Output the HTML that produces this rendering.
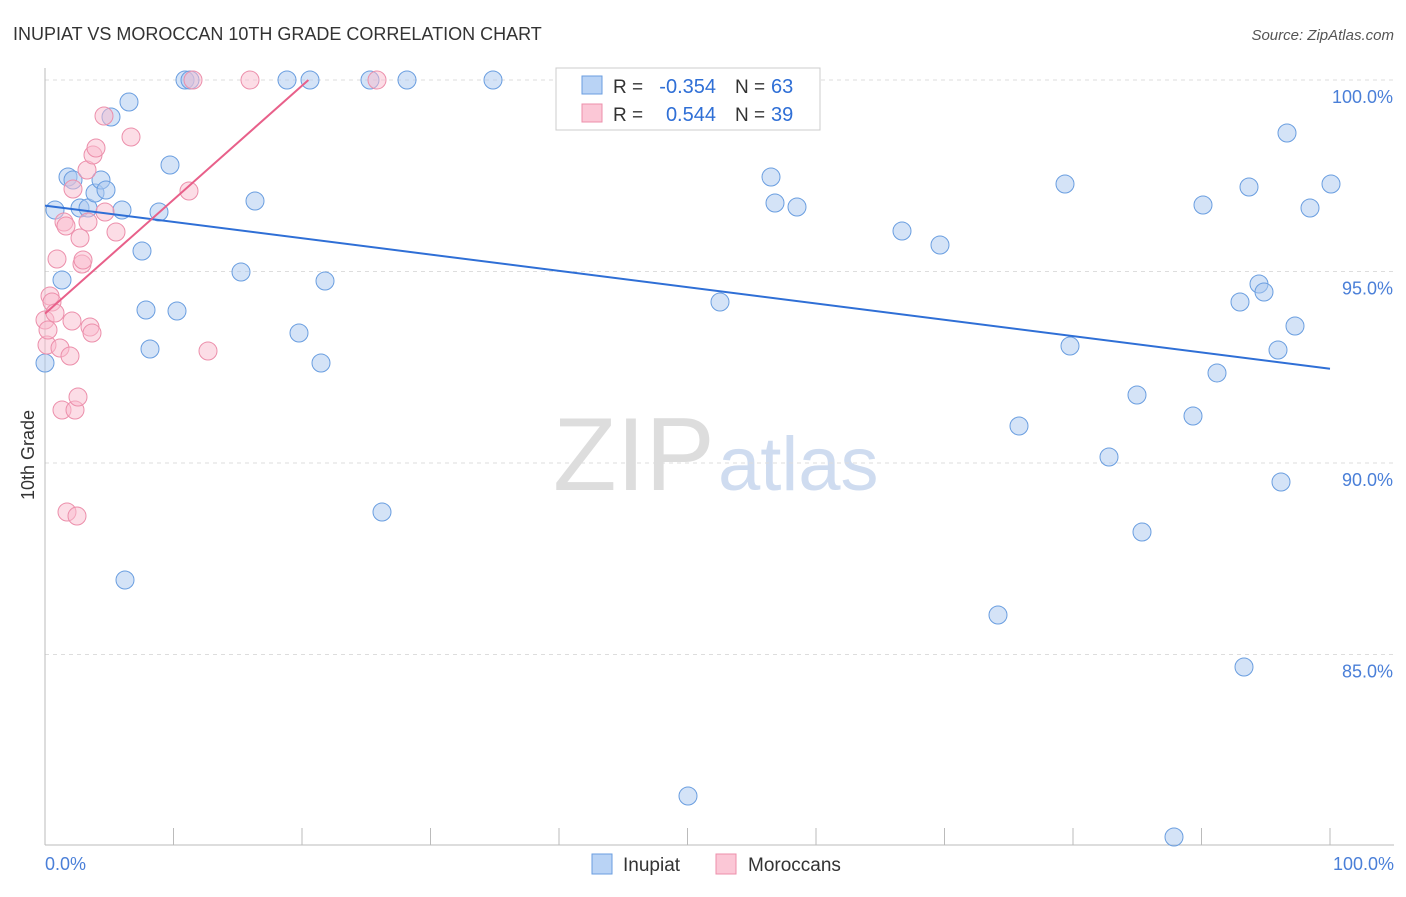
<!DOCTYPE html>
<html><head><meta charset="utf-8"><style>
body{margin:0;background:#fff;font-family:"Liberation Sans",sans-serif;}
svg text{font-family:"Liberation Sans",sans-serif;}
</style></head><body>
<svg id="chart" width="1406" height="892" xmlns="http://www.w3.org/2000/svg">
<text x="13" y="40" font-size="18" fill="#333">INUPIAT VS MOROCCAN 10TH GRADE CORRELATION CHART</text>
<text x="1394" y="40" font-size="15" fill="#555" text-anchor="end" font-style="italic">Source: ZipAtlas.com</text>
<text x="553" y="490" font-size="104" fill="#ddd" font-family="Liberation Serif">ZIP</text>
<text x="718" y="490" font-size="76" fill="#cfdcf0">atlas</text>
<text transform="translate(34,455) rotate(-90)" font-size="18" fill="#333" text-anchor="middle">10th Grade</text>
<g id="grid"></g><g id="ticks"></g><g id="pts"></g><g id="lines"></g>
<g>
<rect x="556" y="68" width="264" height="62" fill="#fff" stroke="#ccc"/>
<rect x="582" y="76" width="20" height="18" fill="#b9d3f5" stroke="#6a9ee0"/>
<rect x="582" y="104" width="20" height="18" fill="#fbc7d6" stroke="#ec8fab"/>
<text x="613" y="93" font-size="19" fill="#333">R =</text>
<text x="716" y="93" font-size="20" fill="#2f6fd6" text-anchor="end">-0.354</text>
<text x="735" y="93" font-size="19" fill="#333">N =</text>
<text x="771" y="93" font-size="20" fill="#2f6fd6">63</text>
<text x="613" y="121" font-size="19" fill="#333">R =</text>
<text x="716" y="121" font-size="20" fill="#2f6fd6" text-anchor="end">0.544</text>
<text x="735" y="121" font-size="19" fill="#333">N =</text>
<text x="771" y="121" font-size="20" fill="#2f6fd6">39</text>
</g>
<g>
<rect x="592" y="854" width="20" height="20" fill="#b9d3f5" stroke="#6a9ee0"/>
<text x="623" y="871" font-size="19" fill="#333">Inupiat</text>
<rect x="716" y="854" width="20" height="20" fill="#fbc7d6" stroke="#ec8fab"/>
<text x="748" y="871" font-size="19" fill="#333">Moroccans</text>
</g>
<text x="45" y="870" font-size="18" fill="#4a7fd8">0.0%</text>
<text x="1394" y="870" font-size="18" fill="#4a7fd8" text-anchor="end">100.0%</text>
</svg>
<script>
const yTicks=[100,95,90,85];
const xTicks=[0,10,20,30,40,50,60,70,80,90,100];
const bluePx=[[45,363],[55,210],[62,280],[68,177],[73,180],[80,208],[88,208],[95,193],[101,180],[106,190],[111,117],[122,210],[125,580],[129,102],[142,251],[146,310],[150,349],[159,212],[170,165],[177,311],[185,80],[190,80],[241,272],[255,201],[287,80],[299,333],[310,80],[321,363],[325,281],[370,80],[382,512],[407,80],[493,80],[650,79],[688,796],[720,302],[771,177],[775,203],[797,207],[902,231],[940,245],[998,615],[1019,426],[1065,184],[1070,346],[1109,457],[1137,395],[1142,532],[1174,837],[1193,416],[1203,205],[1217,373],[1240,302],[1244,667],[1249,187],[1259,284],[1264,292],[1281,482],[1278,350],[1287,133],[1295,326],[1310,208],[1331,184]];
const pinkPx=[[45,320],[47,345],[50,296],[52,302],[55,313],[57,259],[60,348],[62,410],[64,222],[66,226],[67,512],[70,356],[72,321],[73,189],[75,410],[77,516],[78,397],[80,238],[82,264],[83,260],[87,170],[88,222],[90,327],[92,333],[93,155],[96,148],[104,116],[105,212],[116,232],[131,137],[189,191],[193,80],[208,351],[250,80],[377,80],[48,330]];
const toX=p=>(p-45)/12.85, toY=p=>100-(p-80)/38.3;
const blueX=bluePx.map(p=>toX(p[0])), blueY=bluePx.map(p=>toY(p[1]));
const pinkX=pinkPx.map(p=>toX(p[0])), pinkY=pinkPx.map(p=>toY(p[1]));
const blueTrend=[[0,96.72],[100,92.46]];
const pinkTrend=[[0,93.9],[20.5,100]];
const X=v=>45+v*12.85, Y=v=>80+(100-v)*38.3;
const NS="http://www.w3.org/2000/svg";
function mk(g,t,a){const e=document.createElementNS(NS,t);for(const k in a)e.setAttribute(k,a[k]);document.getElementById(g).appendChild(e);return e;}
yTicks.forEach(v=>{
 let l=mk('grid','line',{x1:45,x2:1394,y1:Y(v),y2:Y(v),stroke:'#ddd','stroke-dasharray':'4,4'});
 
 
 let t=mk('ticks','text',{x:1393,y:Y(v)+23,'font-size':18,fill:'#4a7fd8','text-anchor':'end'});
 t.textContent=v.toFixed(1)+'%';
 
 
});
let ax=mk('grid','line',{x1:45,x2:1394,y1:845,y2:845,stroke:'#bbb'});


let ay=mk('grid','line',{x1:45,x2:45,y1:68,y2:845,stroke:'#bbb'});


xTicks.forEach(v=>{
 let l=mk('ticks','line',{x1:X(v),x2:X(v),y1:828,y2:845,stroke:'#bbb'});
 
 
});
function pts(xs,ys,fill,stroke,name){xs.forEach((x,i)=>{
 let c=mk('pts','circle',{cx:X(x),cy:Y(ys[i]),r:9,fill:fill,'fill-opacity':0.5,stroke:stroke,'stroke-width':1});
 
 
});}
pts(blueX,blueY,'#a9c8f0','#6a9ee0','inupiat-point');
pts(pinkX,pinkY,'#f9bccd','#ec8fab','moroccan-point');
let bl=mk('lines','line',{x1:X(blueTrend[0][0]),y1:Y(blueTrend[0][1]),x2:X(blueTrend[1][0]),y2:Y(blueTrend[1][1]),stroke:'#2f6fd6','stroke-width':2});


let pl=mk('lines','line',{x1:X(pinkTrend[0][0]),y1:Y(pinkTrend[0][1]),x2:X(pinkTrend[1][0]),y2:Y(pinkTrend[1][1]),stroke:'#e8608a','stroke-width':2});


</script>
</body></html>
